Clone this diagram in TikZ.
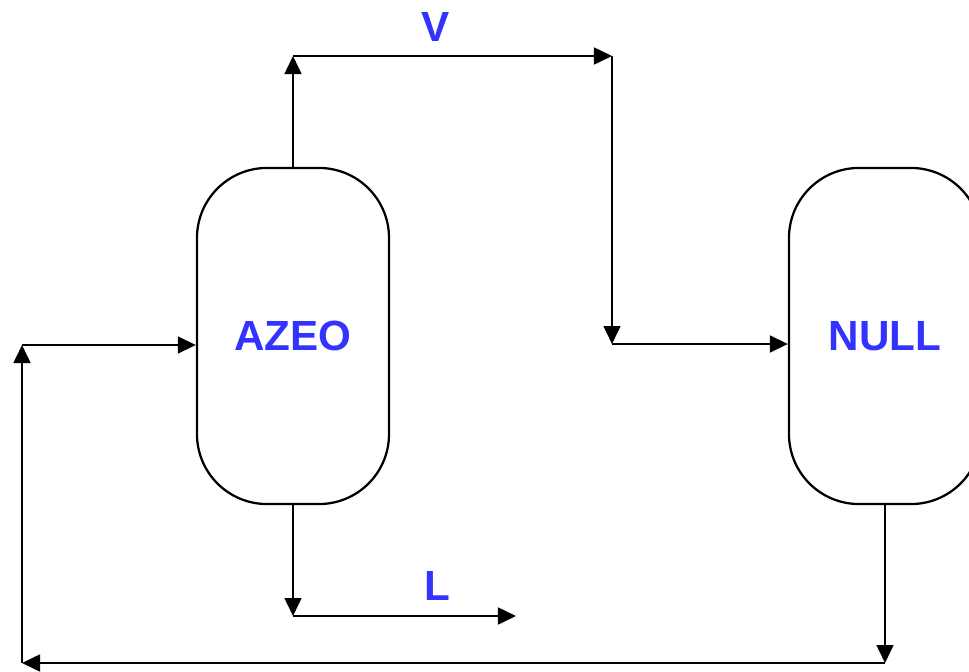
\documentclass[tikz,border=0pt]{standalone}
\usepackage{fontspec}
\setmainfont{Liberation Sans}
\usepackage{xcolor}
\usetikzlibrary{arrows.meta, positioning}
\definecolor{tagblue}{RGB}{51, 51, 255}

\begin{document}
\begin{tikzpicture}[x=0.025cm, y=-0.025cm,
        vessel/.style={rectangle, rounded corners=1.75cm, draw, line width=1.6pt, minimum width=4.8cm, minimum height=8.4cm, inner sep=0pt, text=tagblue, font=\fontsize{30}{33}\selectfont\bfseries},
        flow/.style={-{Triangle[length=0.45cm, width=0.42cm]}, line width=1.6pt},
        tag/.style={text=tagblue, font=\fontsize{30}{33}\selectfont\bfseries, inner sep=0pt}
      ]
        \useasboundingbox (0,0) rectangle (969,672);
        \node[vessel] (azeo) at (293,336) {AZEO};
        \node[vessel] (null) at (885,336) {NULL};
        % turning points of the streams
        \coordinate (vtop) at (293,56);
        \coordinate (vturn) at (612,56);
        \coordinate (vmid) at (612,344);
        \coordinate (lturn) at (293,616);
        \coordinate (lend) at (516,616);
        \coordinate (rbot) at (885,663);
        \coordinate (rleft) at (22,663);
        \coordinate (rmid) at (22,345);
        \node[tag] (vap) at (436,27) {V};
        \node[tag] (liq) at (437,586) {L};
        \draw[flow] (azeo.north) -- (vtop);
        \draw[flow] (vtop) -- (vturn);
        \draw[flow] (vturn) -- (vmid);
        \draw[flow] (vmid) -- (vmid -| null.west);
        \draw[flow] (azeo.south) -- (lturn);
        \draw[flow] (lturn) -- (lend);
        \draw[flow] (null.south) -- (rbot);
        \draw[flow] (rbot) -- (rleft);
        \draw[flow] (rleft) -- (rmid);
        \draw[flow] (rmid) -- (rmid -| azeo.west);
      \end{tikzpicture}
\end{document}
